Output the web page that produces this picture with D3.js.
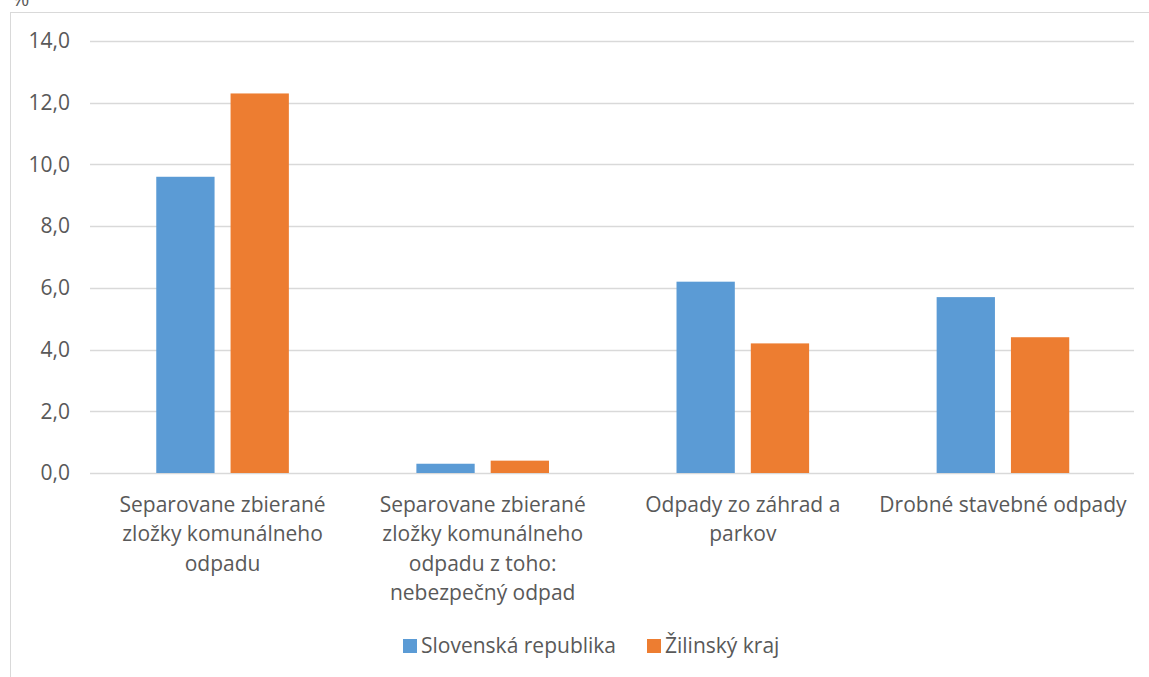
<!DOCTYPE html>
<html><head><meta charset="utf-8">
<script src="https://cdn.jsdelivr.net/npm/d3@7"></script>
<style>body{margin:0;background:#fff}svg{display:block}text{font-family:"Open Sans",sans-serif;fill:#595959}</style>
</head><body><svg id="c" width="1149" height="677"></svg>
<script>
const categories = [
  ["Separovane zbierané","zložky komunálneho","odpadu"],
  ["Separovane zbierané","zložky komunálneho","odpadu z toho:","nebezpečný odpad"],
  ["Odpady zo záhrad a","parkov"],
  ["Drobné stavebné odpady"]
];
const seriesNames = ["Slovenská republika","Žilinský kraj"];
const slovensko = [9.6, 0.3, 6.2, 5.7];
const zilina = [12.3, 0.4, 4.2, 4.4];
const tickValues = [0,2,4,6,8,10,12,14];
const colors = ["#5b9bd5","#ed7d31"];
const unitLabel = "%";

(function(){
const svg = d3.select("#c");
const fs = 21;
svg.append("rect").attr("x",10.5).attr("y",12.5).attr("width",1150).attr("height",700)
  .attr("fill","none").attr("stroke","#d9d9d9").attr("stroke-width",1);
svg.append("text").attr("x",12).attr("y",6).attr("font-size",fs).text(unitLabel);

const pLeft=92.5, pRight=1133, pTop=41, pBottom=473;
const x0 = d3.scaleBand().domain(d3.range(categories.length)).range([pLeft,pRight]).padding(0);
const y = d3.scaleLinear().domain([0,14]).range([pBottom,pTop]);
const pairW = 132.6;
const x1 = d3.scaleBand().domain([0,1]).range([0,pairW]).paddingInner(16/74.3);

svg.append("g").selectAll("line").data(tickValues).join("line")
  .attr("x1",90).attr("x2",1134).attr("y1",d=>Math.round(y(d))+0.5).attr("y2",d=>Math.round(y(d))+0.5)
  .attr("stroke","#d9d9d9").attr("stroke-width",1.5);
const fmt = d => d.toFixed(1).replace(".",",");
svg.append("g").selectAll("text").data(tickValues).join("text")
  .attr("x",70).attr("y",d=>y(d)).attr("dy","0.35em").attr("text-anchor","end").attr("font-size",fs).text(fmt);

const data = [slovensko, zilina];
const bw = x1.bandwidth();
data.forEach((s,si)=>{
  svg.append("g").selectAll("rect").data(s).join("rect")
    .attr("x",(d,i)=>x0(i)+x0.bandwidth()/2-pairW/2+x1(si))
    .attr("width",bw)
    .attr("y",d=>y(d)).attr("height",d=>pBottom-y(d))
    .attr("fill",colors[si]);
});

categories.forEach((lines,i)=>{
  const cx = x0(i)+x0.bandwidth()/2;
  const t = svg.append("text").attr("text-anchor","middle").attr("font-size",fs)
    .attr("x",cx).attr("y",512);
  lines.forEach((l,j)=>t.append("tspan").attr("x",cx).attr("dy",j?29.3:0).text(l));
});

const leg = svg.append("g");
const lx = [403, 647];
seriesNames.forEach((n,i)=>{
  leg.append("rect").attr("x",lx[i]).attr("y",639).attr("width",14).attr("height",14).attr("fill",colors[i]);
  leg.append("text").attr("x",lx[i]+18).attr("y",653).attr("font-size",fs).text(n);
});
})();
</script></body></html>
